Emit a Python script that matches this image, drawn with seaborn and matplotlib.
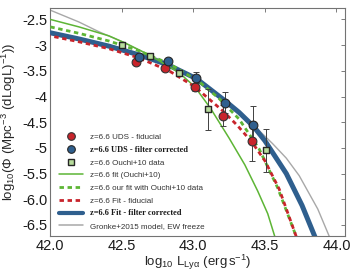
import numpy as np
import pandas as pd
import matplotlib
matplotlib.use("Agg")
import matplotlib.pyplot as plt
from matplotlib.lines import Line2D
from matplotlib.font_manager import FontProperties
import seaborn as sns

# data points (log10 L, log10 Phi, error)
uds_fid_L = [42.60, 42.80, 43.01, 43.21, 43.41]
uds_fid = [-3.32, -3.45, -3.81, -4.37, -4.86]
uds_fid_err = [0.05, 0.05, 0.08, 0.20, 0.39]

uds_cor_L = [42.62, 42.82, 43.02, 43.22, 43.42]
uds_cor = [-3.23, -3.30, -3.63, -4.12, -4.56]
uds_cor_err = [0.05, 0.05, 0.10, 0.20, 0.37]

ouchi_L = [42.50, 42.70, 42.90, 43.10, 43.51]
ouchi = [-2.99, -3.22, -3.54, -4.25, -5.05]
ouchi_err = [0.04, 0.04, 0.05, 0.40, 0.42]

# curves
fit_ouchi_L = [42.0, 42.2, 42.41, 42.52, 42.69, 42.9, 43.01, 43.12, 43.25, 43.36, 43.45, 43.52, 43.57]
fit_ouchi = [-2.50, -2.645, -2.82, -2.955, -3.19, -3.535, -3.81, -4.23, -4.81, -5.33, -5.84, -6.28, -6.73]

ourfit_ouchi_L = [42.0, 42.2, 42.41, 42.62, 42.83, 43.04, 43.18, 43.32, 43.46, 43.59, 43.72]
ourfit_ouchi = [-2.645, -2.77, -2.92, -3.11, -3.36, -3.71, -4.04, -4.44, -5.02, -5.78, -6.73]

fit_fid_L = [42.0, 42.2, 42.41, 42.62, 42.83, 43.01, 43.21, 43.31, 43.41, 43.5, 43.6, 43.72]
fit_fid = [-2.82, -2.935, -3.07, -3.25, -3.50, -3.81, -4.29, -4.57, -4.89, -5.25, -5.80, -6.73]

fit_cor_L = [42.0, 42.2, 42.41, 42.62, 42.82, 43.02, 43.22, 43.32, 43.42, 43.5, 43.65, 43.76, 43.85]
fit_cor = [-2.76, -2.88, -3.02, -3.19, -3.38, -3.65, -4.08, -4.31, -4.58, -4.86, -5.50, -6.12, -6.73]

gronke_L = [42.0, 42.2, 42.34, 42.52, 42.69, 42.83, 43.02, 43.22, 43.40, 43.555, 43.65, 43.74, 43.87, 43.95]
gronke = [-2.32, -2.55, -2.74, -2.955, -3.19, -3.37, -3.66, -4.08, -4.50, -4.92, -5.20, -5.54, -6.19, -6.72]

labels = ["z=6.6 UDS - fiducial", "z=6.6 UDS - filter corrected", "z=6.6 Ouchi+10 data",
          "z=6.6 fit (Ouchi+10)", "z=6.6 our fit with Ouchi+10 data", "z=6.6 Fit - fiducial",
          "z=6.6 Fit - filter corrected", "Gronke+2015 model, EW freeze"]

xticks = [42.0, 42.5, 43.0, 43.5, 44.0]
xticklabels = ["42.0", "42.5", "43.0", "43.5", "44.0"]
yticks = [-2.5, -3, -3.5, -4, -4.5, -5, -5.5, -6.0, -6.5]
yticklabels = ["-2.5", "-3", "-3.5", "-4", "-4.5", "-5", "-5.5", "-6.0", "-6.5"]

RED = "#c8242b"
BLUE = "#2f5f8e"
GREEN = "#5db535"
LGREEN = "#b7dc9c"
GRAY = "#a8a8a8"


def main():
    sns.set_theme(style="white")
    plt.rcParams["font.family"] = ["Liberation Sans", "DejaVu Sans"]
    plt.rcParams["mathtext.fontset"] = "custom"
    plt.rcParams["mathtext.rm"] = "Liberation Sans"
    plt.rcParams["mathtext.it"] = "Liberation Sans:italic"

    fig, ax = plt.subplots(figsize=(3.52, 2.71), dpi=100)
    fig.subplots_adjust(left=0.143, right=0.980, top=0.970, bottom=0.13)

    dash = (0, (1.6, 1.3))
    sns.lineplot(x=gronke_L, y=gronke, ax=ax, color=GRAY, lw=1.0, zorder=2)
    sns.lineplot(x=fit_cor_L, y=fit_cor, ax=ax, color=BLUE, lw=3.6, zorder=3)
    sns.lineplot(x=fit_ouchi_L, y=fit_ouchi, ax=ax, color=GREEN, lw=1.1, zorder=3)
    sns.lineplot(x=ourfit_ouchi_L, y=ourfit_ouchi, ax=ax, color=GREEN, lw=2.0, ls=dash, zorder=3)
    sns.lineplot(x=fit_fid_L, y=fit_fid, ax=ax, color=RED, lw=2.0, ls=(1.45, (1.6, 1.3)), zorder=3)

    for L, v, e in [(uds_fid_L, uds_fid, uds_fid_err), (uds_cor_L, uds_cor, uds_cor_err),
                    (ouchi_L, ouchi, ouchi_err)]:
        ax.errorbar(L, v, yerr=e, fmt="none", ecolor="0.25", elinewidth=0.7,
                    capsize=2, capthick=0.7, zorder=4)

    sns.scatterplot(x=uds_fid_L, y=uds_fid, ax=ax, color=RED, edgecolor="0.2", linewidth=0.8,
                    s=40, marker="o", zorder=5)
    sns.scatterplot(x=uds_cor_L, y=uds_cor, ax=ax, color=BLUE, edgecolor="0.15", linewidth=0.8,
                    s=40, marker="o", zorder=5)
    sns.scatterplot(x=ouchi_L, y=ouchi, ax=ax, color=LGREEN, edgecolor="0.15", linewidth=1.0,
                    s=22, marker="s", zorder=5)

    ax.set_xlim(42.0, 44.06)
    ax.set_ylim(-6.71, -2.28)
    ax.set_xticks(xticks)
    ax.set_xticklabels(xticklabels)
    ax.set_yticks(yticks)
    ax.set_yticklabels(yticklabels)
    ax.tick_params(direction="in", length=3, width=0.6, color="0.4", labelsize=10.5,
                   top=True, right=True, pad=2, labelcolor="0.1")
    for sp in ax.spines.values():
        sp.set_color("0.45")
        sp.set_linewidth(0.8)

    ax.set_xlabel(r"log$_{10}$ L$_{\rm Ly\alpha}$ (erg$\,$s$^{-1}$)", fontsize=9.5)
    ax.set_ylabel(r"log$_{10}$($\Phi$ (Mpc$^{-3}$ (dLogL)$^{-1}$))", fontsize=9.5)
    ax.xaxis.set_label_coords(0.5, -0.074)
    ax.yaxis.set_label_coords(-0.11, 0.5)

    handles = [
        Line2D([], [], ls="none", marker="o", ms=5.5, mfc=RED, mec="0.2", mew=0.8),
        Line2D([], [], ls="none", marker="o", ms=5.5, mfc=BLUE, mec="0.15", mew=0.8),
        Line2D([], [], ls="none", marker="s", ms=4, mfc=LGREEN, mec="0.15", mew=1.0),
        Line2D([], [], color=GREEN, lw=1.1),
        Line2D([], [], color=GREEN, lw=2.0, ls=dash),
        Line2D([], [], color=RED, lw=2.0, ls=dash),
        Line2D([], [], color=BLUE, lw=3.0),
        Line2D([], [], color=GRAY, lw=1.1),
    ]
    leg = ax.legend(handles, labels, loc="lower left", bbox_to_anchor=(0.01, 0.0),
                    frameon=False, fontsize=5.8, handlelength=3.0, handletextpad=0.8,
                    labelspacing=0.62, borderaxespad=0.3)
    bold = FontProperties(family="Liberation Serif", weight="bold", size=6.0)
    for i, t in enumerate(leg.get_texts()):
        t.set_color("0.2")
        if i in (1, 6):
            t.set_fontproperties(bold)
            t.set_color("0.1")

    fig.savefig("out.png", dpi=100)


if __name__ == "__main__":
    main()
